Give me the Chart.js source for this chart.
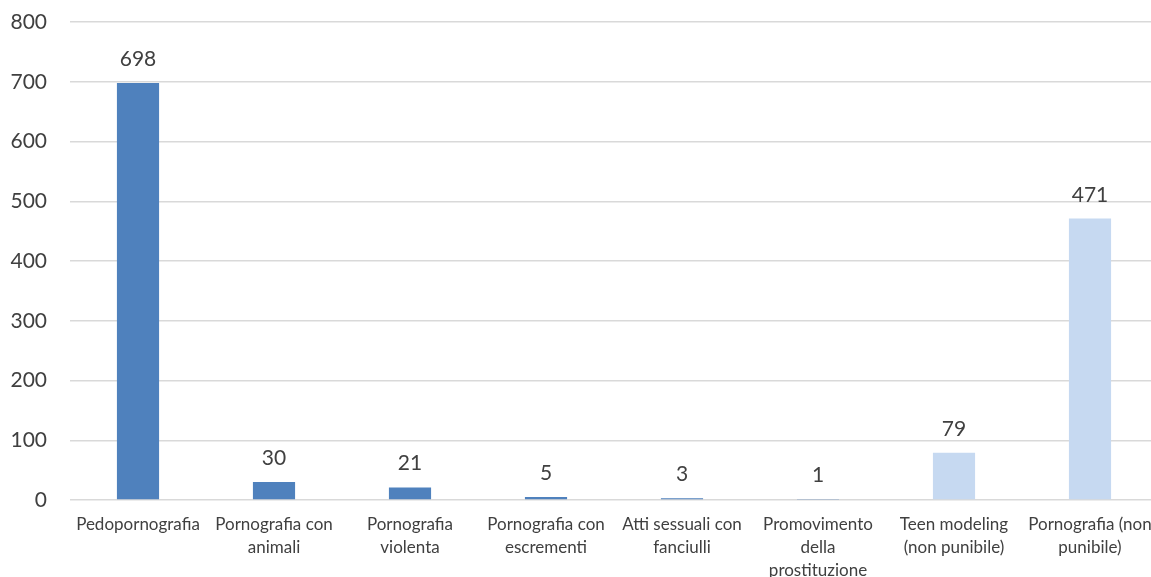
<!DOCTYPE html>
<html>
<head>
<meta charset="utf-8">
<script src="https://cdn.jsdelivr.net/npm/chart.js@4/dist/chart.umd.min.js"></script>
<style>
  html, body { margin: 0; padding: 0; background: #fff; overflow: hidden; }
  #wrap { width: 1160px; height: 577px; position: relative; }
</style>
</head>
<body>
<div id="wrap"><canvas id="c"></canvas></div>
<script>
const categories = [
  "Pedopornografia",
  ["Pornografia con", "animali"],
  ["Pornografia", "violenta"],
  ["Pornografia con", "escrementi"],
  ["Atti sessuali con", "fanciulli"],
  ["Promovimento", "della", "prostituzione"],
  ["Teen modeling", "(non punibile)"],
  ["Pornografia (non", "punibile)"]
];
const values = [698, 30, 21, 5, 3, 1, 79, 471];
const yTicks = [0, 100, 200, 300, 400, 500, 600, 700, 800];

const DARK = "#4F81BD";
const LIGHT = "#C6D9F1";
const barColors = [DARK, DARK, DARK, DARK, DARK, DARK, LIGHT, LIGHT];
const TEXT = "#404040";
const FONT = "Lato, 'Open Sans', sans-serif";

const dataLabels = {
  id: "dataLabels",
  afterDatasetsDraw(chart) {
    const ctx = chart.ctx;
    const meta = chart.getDatasetMeta(0);
    ctx.save();
    ctx.font = "21px " + FONT;
    ctx.fillStyle = TEXT;
    ctx.textAlign = "center";
    ctx.textBaseline = "alphabetic";
    meta.data.forEach((bar, i) => {
      ctx.fillText(String(chart.data.datasets[0].data[i]), bar.x, bar.y - 17);
    });
    ctx.restore();
  }
};

new Chart(document.getElementById("c"), {
  type: "bar",
  data: {
    labels: categories,
    datasets: [{
      data: values,
      backgroundColor: barColors,
      borderWidth: 0,
      barPercentage: 1,
      categoryPercentage: 0.31
    }]
  },
  options: {
    responsive: true,
    maintainAspectRatio: false,
    animation: false,
    layout: { padding: { top: 22, right: 2, left: 0, bottom: 0 } },
    plugins: { legend: { display: false }, tooltip: { enabled: false } },
    scales: {
      x: {
        grid: { display: false, drawTicks: false },
        border: { display: false },
        ticks: {
          color: TEXT,
          font: { family: FONT, size: 17, lineHeight: 1.35 },
          padding: 13,
          maxRotation: 0,
          autoSkip: false
        },
        afterFit(scale) {
          scale.height = 77;
          scale.paddingLeft = 0;
          scale.paddingRight = 0;
        }
      },
      y: {
        min: 0,
        max: 800,
        afterBuildTicks(scale) { scale.ticks = yTicks.map(v => ({ value: v })); },
        grid: { color: "#D9D9D9", lineWidth: 1.5, drawTicks: false },
        border: { display: false },
        ticks: {
          color: TEXT,
          font: { family: FONT, size: 21 },
          padding: 23
        },
        afterFit(scale) {
          scale.width = 70;
          scale.paddingTop = 0;
          scale.paddingBottom = 0;
        }
      }
    }
  },
  plugins: [dataLabels]
});
</script>
</body>
</html>
